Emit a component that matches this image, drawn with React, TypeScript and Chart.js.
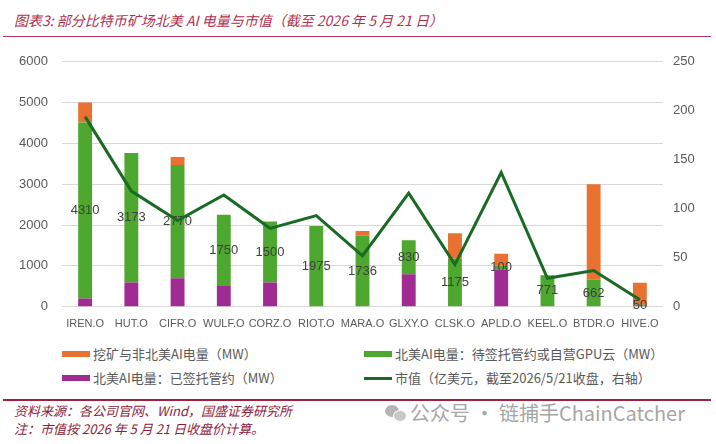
import React, { useEffect, useRef } from "react";
import { Chart, registerables } from "chart.js";

Chart.register(...registerables);

const categories = ["IREN.O", "HUT.O", "CIFR.O", "WULF.O", "CORZ.O", "RIOT.O", "MARA.O", "GLXY.O", "CLSK.O", "APLD.O", "KEEL.O", "BTDR.O", "HIVE.O"];
// 北美AI电量：已签托管约（MW）
const signedMW = [200, 595, 700, 505, 590, 0, 0, 795, 0, 910, 0, 0, 0];
// 北美AI电量：待签托管约或自营GPU云（MW）
const pendingMW = [4310, 3173, 2770, 1750, 1500, 1975, 1736, 830, 1175, 100, 771, 662, 50];
// 挖矿与非北美AI电量（MW）
const otherMW = [490, 0, 200, 0, 0, 0, 120, 0, 625, 290, 0, 2338, 535];
// 市值（亿美元）
const marketCap = [194, 118, 88, 114, 80, 93, 52, 116, 43, 137, 29, 37, 7];

const leftMax = 6000;
const leftStep = 1000;
const rightMax = 250;
const rightStep = 50;

const ORANGE = "#E97132";
const GREEN = "#4EA72E";
const PURPLE = "#A02B93";
const DARKGREEN = "#196B24";

const LABEL_FONT = '"Liberation Sans", Arial, sans-serif';
const CJK_FONT = '"Noto Sans CJK SC", "Noto Sans", sans-serif';

const greenLabels = {
  id: "greenLabels",
  afterDatasetDraw(chart: any, args: any) {
    if (args.index !== 1) return;
    const ctx = chart.ctx;
    ctx.save();
    ctx.font = `13px ${LABEL_FONT}`;
    ctx.fillStyle = "#404040";
    ctx.textAlign = "center";
    ctx.textBaseline = "middle";
    args.meta.data.forEach((bar: any, i: number) => {
      const p = bar.getProps(["x", "y", "base"], true);
      ctx.fillText(String(pendingMW[i]), p.x, (p.y + p.base) / 2);
    });
    ctx.restore();
  },
};

export default function App() {
  const ref = useRef<HTMLCanvasElement | null>(null);

  useEffect(() => {
    if (!ref.current) return;
    const chart = new Chart(ref.current, {
      type: "bar",
      data: {
        labels: categories,
        datasets: [
          { type: "bar", label: "北美AI电量：已签托管约（MW）", data: signedMW, backgroundColor: PURPLE, yAxisID: "y", order: 1, categoryPercentage: 1, barPercentage: 0.3 },
          { type: "bar", label: "北美AI电量：待签托管约或自营GPU云（MW）", data: pendingMW, backgroundColor: GREEN, yAxisID: "y", order: 1, categoryPercentage: 1, barPercentage: 0.3 },
          { type: "bar", label: "挖矿与非北美AI电量（MW）", data: otherMW, backgroundColor: ORANGE, yAxisID: "y", order: 1, categoryPercentage: 1, barPercentage: 0.3 },
          { type: "line", label: "市值（亿美元，截至2026/5/21收盘，右轴）", data: marketCap, borderColor: DARKGREEN, backgroundColor: DARKGREEN, borderWidth: 3, pointRadius: 0, tension: 0, yAxisID: "y1", order: 0 } as any,
        ],
      },
      options: {
        animation: false,
        responsive: false,
        devicePixelRatio: 1,
        layout: { padding: { top: 16, left: 0, right: 0, bottom: 0 } },
        plugins: { legend: { display: false }, tooltip: { enabled: false }, title: { display: false } },
        scales: {
          x: {
            stacked: true,
            grid: { display: false, drawTicks: false },
            border: { display: false },
            ticks: { color: "#595959", font: { family: LABEL_FONT, size: 11 }, padding: 11, maxRotation: 0, autoSkip: false },
            afterFit: (s: any) => { s.height = 33.3; },
          },
          y: {
            stacked: true,
            position: "left",
            min: 0,
            max: leftMax,
            ticks: { stepSize: leftStep, color: "#595959", font: { family: LABEL_FONT, size: 13 }, padding: 14, callback: (v: any) => String(v) },
            grid: { color: "#D9D9D9", lineWidth: 1, drawTicks: false },
            border: { display: false },
            afterFit: (s: any) => { s.width = 62; },
          },
          y1: {
            stacked: false,
            position: "right",
            min: 0,
            max: rightMax,
            ticks: { stepSize: rightStep, color: "#595959", font: { family: LABEL_FONT, size: 13 }, padding: 10, callback: (v: any) => String(v) },
            grid: { display: false, drawTicks: false },
            border: { display: false },
            afterFit: (s: any) => { s.width = 53; },
          },
        },
      },
      plugins: [greenLabels],
    });
    return () => chart.destroy();
  }, []);

  const legendText: React.CSSProperties = { position: "absolute", fontFamily: CJK_FONT, fontSize: 13, color: "#595959", lineHeight: "16px", whiteSpace: "nowrap" };
  const sw = (left: number, top: number, color: string, h: number): React.CSSProperties => ({ position: "absolute", left, top: top - h / 2, width: 28, height: h, background: color });

  return (
    <div style={{ position: "absolute", left: 0, top: 0, width: 716, height: 444, background: "#fff", overflow: "hidden" }}>
      <div style={{ position: "absolute", left: 14, top: 10, fontFamily: CJK_FONT, fontStyle: "italic", fontSize: 14, lineHeight: "20px", color: "#B0304F", whiteSpace: "nowrap" }}>
        图表3:  部分比特币矿场北美 AI 电量与市值（截至 2026 年 5 月 21 日）
      </div>
      <div style={{ position: "absolute", left: 3, top: 35.5, width: 708, height: 1.5, background: "#B83A5A" }} />
      <canvas ref={ref} width={716} height={300} style={{ position: "absolute", left: 0, top: 40, width: 716, height: 300 }} />

      <div style={sw(62, 353.5, ORANGE, 6)} />
      <div style={{ ...legendText, left: 93, top: 345.5 }}>挖矿与非北美AI电量（MW）</div>
      <div style={sw(364, 353.5, GREEN, 6)} />
      <div style={{ ...legendText, left: 395, top: 345.5 }}>北美AI电量：待签托管约或自营GPU云（MW）</div>
      <div style={sw(62, 378, PURPLE, 6)} />
      <div style={{ ...legendText, left: 93, top: 370 }}>北美AI电量：已签托管约（MW）</div>
      <div style={sw(364, 378, DARKGREEN, 3)} />
      <div style={{ ...legendText, left: 395, top: 370 }}>市值（亿美元，截至2026/5/21收盘，右轴）</div>

      <div style={{ position: "absolute", left: 3, top: 399, width: 708, height: 1.5, background: "#A3213F" }} />
      <div style={{ position: "absolute", left: 14, top: 402, fontFamily: CJK_FONT, fontStyle: "italic", fontSize: 13, lineHeight: "17px", color: "#8E1D3E", whiteSpace: "nowrap" }}>
        资料来源：各公司官网、Wind，国盛证券研究所
      </div>
      <div style={{ position: "absolute", left: 14, top: 420, fontFamily: CJK_FONT, fontStyle: "italic", fontSize: 13, lineHeight: "17px", color: "#8E1D3E", whiteSpace: "nowrap" }}>
        注：市值按 2026 年 5 月 21 日收盘价计算。
      </div>

      <div style={{ position: "absolute", left: 385, top: 405, width: 14, height: 12, borderRadius: "50%", background: "#B5B5B5" }} />
      <div style={{ position: "absolute", left: 393, top: 410, width: 12, height: 10, borderRadius: "50%", background: "#C8C8C8", border: "1px solid #fff" }} />
      <div style={{ position: "absolute", left: 410, top: 400, fontFamily: CJK_FONT, fontSize: 20, lineHeight: "26px", color: "#A6A6A6", whiteSpace: "nowrap" }}>
        公众号 · 链捕手ChainCatcher
      </div>
    </div>
  );
}
